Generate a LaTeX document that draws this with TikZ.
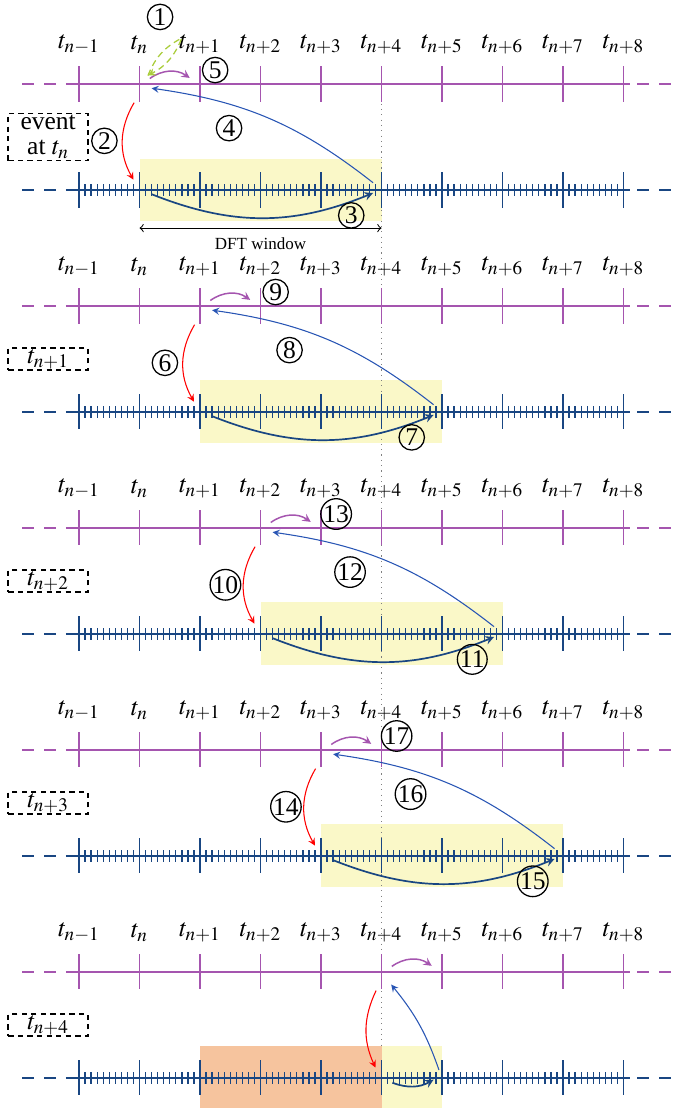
\documentclass[tikz,border=0pt]{standalone}
\usepackage{amsmath}
\usepackage{mathptmx}
\usepackage{fontspec}
\setmainfont{Liberation Serif}
\usepackage{xcolor}
\usetikzlibrary{arrows, positioning, calc}

\definecolor{linepurple}{RGB}{165,85,175}
\definecolor{lineblue}{RGB}{25,70,130}
\definecolor{arrowblue}{RGB}{40,85,180}
\definecolor{arrowgreen}{RGB}{170,205,60}
\definecolor{winyellow}{RGB}{250,248,200}
\definecolor{winorange}{RGB}{246,196,158}

\tikzset{
  num/.style={draw, circle, line width=0.6pt, minimum size=0.42cm, inner sep=0pt, font=\large},
  tlabel/.style={font=\large},
  evbox/.style={draw, line width=0.8pt, dash pattern=on 2.5pt off 2pt, minimum width=1.32cm, inner sep=0.5pt, font=\large},
  purplearrow/.style={->, >=stealth, linepurple, line width=0.7pt},
  redarrow/.style={->, >=stealth, red, line width=0.5pt},
  bluearrow/.style={->, >=stealth, arrowblue, line width=0.5pt},
  arcarrow/.style={->, >=stealth, lineblue, line width=0.8pt},
  greenarrow/.style={->, >=stealth, arrowgreen, line width=0.6pt, dash pattern=on 3pt off 2pt}
}

\begin{document}
\begin{tikzpicture}
\useasboundingbox (-1.306,0) rectangle (9.851,-18.314);

% tick points of the two lines in each row
\foreach \r in {0,...,4} {
  \pgfmathsetmacro\yp{-1.388-3.669*\r}
  \pgfmathsetmacro\yb{\yp-1.752}
  \foreach \i in {0,...,9} {
    \coordinate (p\r-\i) at (\i,\yp);
    \coordinate (b\r-\i) at (\i,\yb);
  }
}

% DFT windows
\foreach \r in {0,...,3} {
  \pgfmathtruncatemacro\s{\r+1}
  \pgfmathtruncatemacro\e{\r+5}
  \fill[winyellow] ($(b\r-\s)+(0,0.52)$) rectangle ($(b\r-\e)+(0,-0.52)$);
}
\fill[winorange] ($(b4-2)+(0,0.52)$) rectangle ($(b4-5)+(0,-0.52)$);
\fill[winyellow] ($(b4-5)+(0,0.52)$) rectangle ($(b4-6)+(0,-0.52)$);

% current time
\draw[gray, dotted, line width=0.5pt] ($(p0-5)+(0,0.29)$) -- ($(b4-5)+(0,0.52)$);

% time lines
\foreach \r in {0,...,4} {
  % purple line
  \draw[linepurple, line width=0.8pt, dash pattern=on 5.6pt off 4.7pt] ($(p\r-0)+(-0.94,0)$) -- (p\r-0);
  \draw[linepurple, line width=0.8pt, dash pattern=on 5.6pt off 4.7pt] ($(p\r-9)+(0.23,0)$) -- ($(p\r-9)+(0.87,0)$);
  \draw[linepurple, line width=0.9pt] (p\r-0) -- ($(p\r-9)+(0.1,0)$);
  \foreach \i in {0,...,9}
    \draw[linepurple, line width=0.6pt] ($(p\r-\i)+(0,0.29)$) -- ($(p\r-\i)+(0,-0.29)$);
  % blue line
  \draw[lineblue, line width=0.8pt, dash pattern=on 5.6pt off 4.7pt] ($(b\r-0)+(-0.94,0)$) -- (b\r-0);
  \draw[lineblue, line width=0.8pt, dash pattern=on 5.6pt off 4.7pt] ($(b\r-9)+(0.23,0)$) -- ($(b\r-9)+(0.87,0)$);
  \draw[lineblue, line width=0.9pt] (b\r-0) -- ($(b\r-9)+(0.1,0)$);
  \foreach \i in {0,...,9}
    \draw[lineblue, line width=0.6pt] ($(b\r-\i)+(0,0.29)$) -- ($(b\r-\i)+(0,-0.29)$);
  \foreach \i in {0,...,8}
    \foreach \k in {1,...,9}
      \draw[lineblue, line width=0.6pt] ($(b\r-\i)+(0.1*\k,0.095)$) -- ($(b\r-\i)+(0.1*\k,-0.095)$);
  % labels
  \foreach \i/\lab in {0/{n-1},1/n,2/{n+1},3/{n+2},4/{n+3},5/{n+4},6/{n+5},7/{n+6},8/{n+7},9/{n+8}}
    \node[tlabel] (l\r-\i) at ($(p\r-\i)+(0,0.65)$) {$t_{\lab}$};
}

% event boxes
\node[evbox, align=center, minimum height=0.78cm, inner sep=0pt] (ev0) at (-0.51,-2.264) {event\\[-2pt]at $t_n$};
\foreach \r/\lab in {1/{n+1},2/{n+2},3/{n+3},4/{n+4}}
  \node[evbox, minimum height=0.35cm] (ev\r) at (-0.51,-2.264-3.669*\r) {$t_{\lab}$};

% steps of each row
\foreach \r/\np/\nr/\nb/\na in {0/5/2/4/3,1/9/6/8/7,2/13/10/12/11,3/17/14/16/15} {
  \pgfmathtruncatemacro\s{\r+1}
  \pgfmathtruncatemacro\e{\r+5}
  \draw[purplearrow] ([shift={(0.17,0.09)}]p\r-\s) to[bend left=35] ([shift={(0.83,0.1)}]p\r-\s);
  \node[num] (np\r) at ([shift={(1.25,0.23)}]p\r-\s) {\np};
  \draw[redarrow] ([shift={(-0.09,-0.31)}]p\r-\s) to[bend right=30] ([shift={(-0.1,0.17)}]b\r-\s);
  \node[num] (nr\r) at ([shift={(-0.58,-0.94)}]p\r-\s) {\nr};
  \draw[bluearrow] ([shift={(-0.14,0.12)}]b\r-\e) to[bend right=15] ([shift={(0.2,-0.07)}]p\r-\s);
  \node[num] (nb\r) at ([shift={(1.48,-0.73)}]p\r-\s) {\nb};
  \draw[arcarrow] ([shift={(0.2,-0.07)}]b\r-\s) to[bend right=22] ([shift={(-0.14,-0.05)}]b\r-\e);
  \node[num] (na\r) at ([shift={(-0.5,-0.42)}]b\r-\e) {\na};
}

% last row
\draw[purplearrow] ([shift={(0.17,0.09)}]p4-5) to[bend left=35] ([shift={(0.83,0.1)}]p4-5);
\draw[redarrow] ([shift={(-0.09,-0.31)}]p4-5) to[bend right=25] ([shift={(-0.1,0.17)}]b4-5);
\draw[bluearrow] ([shift={(-0.05,0.13)}]b4-6) to[bend right=10] ([shift={(0.16,-0.21)}]p4-5);
\draw[arcarrow] ([shift={(0.18,-0.08)}]b4-5) to[bend right=25] ([shift={(-0.14,-0.03)}]b4-6);

% DFT window
\coordinate (dftl) at ($(b0-1)+(0,-0.63)$);
\coordinate (dftr) at ($(b0-5)+(0,-0.63)$);
\draw[<->, >=to, line width=0.5pt] (dftl) -- node[below=1pt, font=\footnotesize] (dft) {DFT window} (dftr);

% event
\node[num] (n1) at (1.34,-0.28) {1};
\coordinate (gtop) at ($(p0-1)+(0.70,0.76)$);
\coordinate (gbot) at ($(p0-1)+(0.14,0.14)$);
\draw[greenarrow] (gbot) to[bend left=20] (gtop) to[bend left=20] (gbot);

\end{tikzpicture}
\end{document}
